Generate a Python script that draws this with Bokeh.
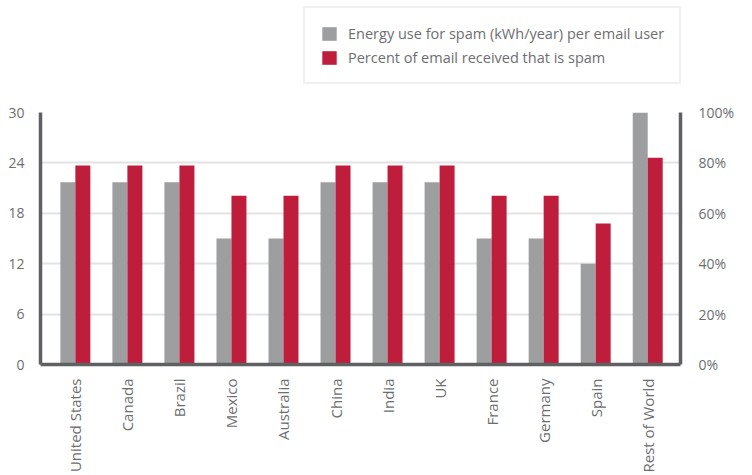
import math
from bokeh.plotting import figure
from bokeh.layouts import column
from bokeh.models import (Range1d, LinearAxis, FixedTicker, PrintfTickFormatter,
                          Legend, LegendItem, ColumnDataSource)
from bokeh.transform import dodge
from bokeh.embed import file_html
from bokeh.resources import INLINE

countries = ["United States", "Canada", "Brazil", "Mexico", "Australia", "China",
             "India", "UK", "France", "Germany", "Spain", "Rest of World"]
energy_kwh = [21.7, 21.7, 21.7, 15, 15, 21.7, 21.7, 21.7, 15, 15, 12, 30]
spam_pct = [79, 79, 79, 67, 67, 79, 79, 79, 67, 67, 56, 82]
series_names = ["Energy use for spam (kWh/year) per email user",
                "Percent of email received that is spam"]
left_ticks = [0, 6, 12, 18, 24, 30]
right_ticks = [0, 20, 40, 60, 80, 100]

GRAY = "#9d9ea0"
RED = "#be1e3c"
TEXT = "#6d6e70"
AXIS = "#5f6062"
FONT = "Open Sans"

src = ColumnDataSource(dict(x=list(range(len(countries))), energy=energy_kwh, pct=spam_pct))

p = figure(width=752, height=375, output_backend="svg", toolbar_location=None,
           x_range=Range1d(-0.67, 11.63), y_range=Range1d(0, 30),
           min_border_left=40, min_border_right=72, min_border_top=12, min_border_bottom=108)
p.extra_y_ranges = {"pct": Range1d(0, 100)}
p.outline_line_color = None
p.background_fill_color = "white"
p.border_fill_color = "white"

bw = 0.288
r1 = p.vbar(x=dodge("x", -bw / 2), top="energy", width=bw, source=src,
            fill_color=GRAY, line_color=None)
r2 = p.vbar(x=dodge("x", bw / 2), top="pct", width=bw, source=src,
            fill_color=RED, line_color=None, y_range_name="pct")

# axes
for ax in (p.xaxis[0], p.yaxis[0]):
    ax.axis_line_color = AXIS
    ax.axis_line_width = 3.5
    ax.major_tick_line_color = None
    ax.minor_tick_line_color = None
    ax.major_label_text_color = TEXT
    ax.major_label_text_font = FONT
    ax.major_label_text_font_size = "14px"

p.yaxis[0].ticker = FixedTicker(ticks=left_ticks)
p.yaxis[0].major_label_standoff = 10

p.xaxis[0].ticker = FixedTicker(ticks=list(range(len(countries))))
p.xaxis[0].major_label_overrides = {i: c for i, c in enumerate(countries)}
p.xaxis[0].major_label_orientation = math.pi / 2
p.xaxis[0].major_label_standoff = 8
p.xaxis[0].major_label_text_font_size = "15px"

ra = LinearAxis(y_range_name="pct", ticker=FixedTicker(ticks=right_ticks),
                formatter=PrintfTickFormatter(format="%d%%"))
ra.axis_line_color = AXIS
ra.axis_line_width = 3.5
ra.major_tick_line_color = None
ra.minor_tick_line_color = None
ra.major_label_text_color = TEXT
ra.major_label_text_font = FONT
ra.major_label_text_font_size = "14px"
ra.major_label_standoff = 12
p.add_layout(ra, "right")

p.xgrid.grid_line_color = None
p.ygrid.grid_line_color = "#e3e3e3"
p.ygrid.grid_line_width = 2
p.ygrid.ticker = FixedTicker(ticks=left_ticks)

# legend strip above the chart (own frame, not aligned with the chart frame)
lf = figure(width=752, height=100, output_backend="svg", toolbar_location=None,
            x_range=Range1d(0, 1), y_range=Range1d(0, 1),
            x_axis_type=None, y_axis_type=None,
            min_border_left=0, min_border_right=0, min_border_top=0, min_border_bottom=0)
lf.frame_align = False
lf.outline_line_color = None
lf.xgrid.grid_line_color = None
lf.ygrid.grid_line_color = None
g1 = lf.vbar(x="x", top="energy", width=bw, source=src, fill_color=GRAY, line_color=None,
             visible=False)
g2 = lf.vbar(x="x", top="pct", width=bw, source=src, fill_color=RED, line_color=None,
             visible=False)

legend = Legend(items=[
    LegendItem(label=series_names[0], renderers=[g1]),
    LegendItem(label=series_names[1], renderers=[g2]),
], location=(303, 16), orientation="vertical")
legend.click_policy = "none"
legend.border_line_color = "#e3e3e3"
legend.border_line_width = 2
legend.background_fill_color = "white"
legend.label_text_font = FONT
legend.label_text_font_size = "14.5px"
legend.label_text_color = TEXT
legend.glyph_width = 18
legend.glyph_height = 17
legend.label_height = 20
legend.label_standoff = 10
legend.spacing = 4
legend.padding = 15
legend.margin = 0
lf.add_layout(legend, "center")

layout = column(lf, p, spacing=0)
open("out.html", "w").write(file_html(layout, INLINE))
